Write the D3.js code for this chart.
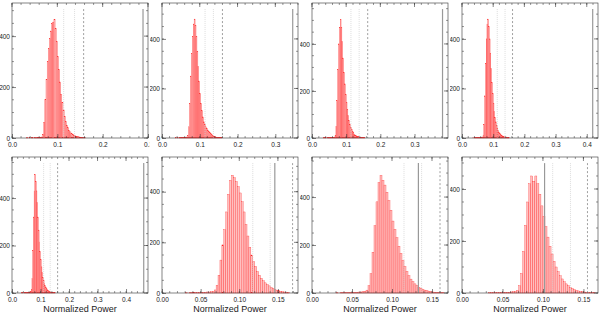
<!DOCTYPE html>
<html><head><meta charset="utf-8">
<script src="https://cdn.jsdelivr.net/npm/d3@7"></script>
<style>body{margin:0;background:#fff}svg{display:block}</style>
</head><body>
<script>
// ---- data ----
const binStart = 0.03;
const binWidth = 0.0025;
const counts1 = [0,1,0,1,0,1,1,0,1,2,1,1,2,2,4,15,60,150,230,300,350,390,420,450,455,465,430,380,320,270,220,170,140,110,85,65,50,40,30,24,19,15,12,9,7,6,5,4,3,3,2,1,1];
const counts2 = [0,0,1,0,1,0,1,1,1,1,2,1,2,3,4,10,45,140,250,340,410,460,480,455,410,350,290,230,180,140,110,85,65,55,45,38,32,26,21,17,13,10,8,6,5,4,3,2,2,1,1,1];
const counts3 = [0,1,0,1,1,0,1,1,1,2,1,2,2,3,4,12,50,160,290,400,470,505,470,410,340,280,230,185,150,120,95,75,58,46,36,28,22,17,13,10,8,6,5,4,3,2,2,1,1,1];
const counts4 = [0,0,1,0,1,1,0,1,1,1,2,1,2,3,4,12,55,170,300,400,460,480,450,400,340,280,225,180,140,108,84,65,50,40,31,24,19,15,12,9,7,5,4,3,3,2,1,1,1];
const counts5 = [0,1,0,1,0,1,1,1,1,1,2,2,2,3,5,14,60,180,320,430,500,470,430,380,320,265,215,175,140,110,86,66,52,41,32,25,20,16,12,9,7,5,4,3,3,2,1,1,1];
const counts6 = [1,0,1,2,1,2,1,2,3,2,3,4,4,5,7,12,30,70,130,190,250,320,390,445,465,455,440,420,395,360,320,270,225,180,150,125,105,85,70,58,48,40,33,28,22,18,14,11,9,7,5,4,3,2];
const counts7 = [1,0,1,1,2,1,2,2,3,2,3,4,4,5,7,12,30,80,170,280,380,460,490,470,450,420,385,345,300,265,230,195,165,135,110,90,72,58,47,38,30,24,19,15,12,9,7,5,4,3,2,2,1,1];
const counts8 = [0,1,1,1,2,1,2,2,2,3,3,3,4,5,6,10,28,75,160,260,350,420,450,430,450,420,380,335,295,255,215,180,150,122,100,82,66,54,43,35,28,22,17,13,10,8,6,5,4,3,2,2,1,1];
const allCounts = [counts1,counts2,counts3,counts4,counts5,counts6,counts7,counts8];

const xMaxes = [0.30, 0.36, 0.398, 0.436, 0.477, 0.176, 0.170, 0.168];
const yMaxes = [530, 545, 574, 545, 573, 537, 567, 523];
const xTickSteps = [0.1, 0.1, 0.1, 0.1, 0.1, 0.05, 0.05, 0.05];
const yTickValues = [0, 200, 400];
const dotted1 = [0.114, 0.114, 0.114, 0.113, 0.111, 0.1175, 0.115, 0.112];
const dotted2 = [0.138, 0.136, 0.138, 0.138, 0.134, 0.140, 0.137, 0.134];
const dashed = [0.158, 0.160, 0.163, 0.162, 0.160, 0.169, 0.160, 0.155];
const observed = [0.289, 0.346, 0.382, 0.419, 0.462, 0.146, 0.133, 0.102];
const xTitle = "Normalized Power";

// ---- drawing ----
const W = 600, H = 317;
const svg = d3.select("body").append("svg").attr("width", W).attr("height", H)
  .style("font-family", "'Liberation Sans', Arial, Helvetica, sans-serif");

const colX = [12, 162, 312, 462];
const rowY = [3, 157];
const pw = 136, ph = [135, 136];
const ink = "#333";

allCounts.forEach((counts, i) => {
  const row = i < 4 ? 0 : 1, col = i % 4;
  const x0 = colX[col], y0 = rowY[row], h = ph[row];
  const clipId = "clip" + i;
  svg.append("clipPath").attr("id", clipId).append("rect")
    .attr("x", col * 150).attr("y", row === 0 ? 0 : 150).attr("width", 150).attr("height", row === 0 ? 150 : 167);
  const g = svg.append("g").attr("clip-path", `url(#${clipId})`);
  const x = d3.scaleLinear().domain([0, xMaxes[i]]).range([x0, x0 + pw]);
  const y = d3.scaleLinear().domain([0, yMaxes[i]]).range([y0 + h, y0]);

  const bins = counts.map((c, k) => ({ a: binStart + k * binWidth, c }));
  g.append("g").selectAll("rect").data(bins.filter(d => d.c > 0)).join("rect")
    .attr("x", d => x(d.a)).attr("width", d => x(d.a + binWidth) - x(d.a))
    .attr("y", d => y(d.c)).attr("height", d => y(0) - y(d.c))
    .attr("fill", "#ffc0c0").attr("stroke", "#ff1f1f").attr("stroke-width", 0.3);

  const lineTop = y(yMaxes[i] * 0.955);
  const vl = (v, stroke, dash, sw) => g.append("line")
    .attr("x1", x(v)).attr("x2", x(v)).attr("y1", lineTop).attr("y2", y(0))
    .attr("stroke", stroke).attr("stroke-width", sw).attr("stroke-dasharray", dash);
  vl(dotted1[i], "#cfcfcf", "1,1", 0.7);
  vl(dotted2[i], "#cfcfcf", "1,1", 0.7);
  vl(dashed[i], "#888", "2,2", 0.8);
  vl(observed[i], "#999", null, 1.2);

  // frame
  g.append("rect").attr("x", x0).attr("y", y0).attr("width", pw).attr("height", h)
    .attr("fill", "none").attr("stroke", ink).attr("stroke-width", 0.6);

  // x ticks
  const step = xTickSteps[i];
  const nMaj = Math.floor(xMaxes[i] / step + 1e-9);
  const majors = d3.range(0, nMaj + 1).map(k => k * step);
  const minors = d3.range(0, Math.floor(xMaxes[i] / (step / 5) + 1e-9) + 1).map(k => k * step / 5);
  const fmt = step < 0.1 ? d3.format(".2f") : d3.format(".1f");
  const bottom = d3.axisBottom(x).tickValues(majors).tickSize(-4).tickFormat(fmt).tickPadding(4);
  const ax = g.append("g").attr("transform", `translate(0,${y0 + h})`).call(bottom);
  ax.select(".domain").remove();
  ax.selectAll("line").attr("stroke", ink).attr("stroke-width", 0.6);
  ax.selectAll("text").attr("font-size", 6.5).attr("fill", "#222").attr("font-family", null);
  [y0 + h, y0].forEach((yy, s) => {
    g.append("g").selectAll("line").data(minors).join("line")
      .attr("x1", d => x(d)).attr("x2", d => x(d))
      .attr("y1", yy).attr("y2", yy + (s === 0 ? -2 : 2))
      .attr("stroke", ink).attr("stroke-width", 0.5);
    if (s === 1) g.append("g").selectAll("line").data(majors).join("line")
      .attr("x1", d => x(d)).attr("x2", d => x(d)).attr("y1", yy).attr("y2", yy + 4)
      .attr("stroke", ink).attr("stroke-width", 0.6);
  });

  // y ticks
  const yMinors = d3.range(0, yMaxes[i] + 1, 50);
  const left = d3.axisLeft(y).tickValues(yTickValues).tickSize(-4).tickPadding(2);
  const ay = g.append("g").attr("transform", `translate(${x0},0)`).call(left);
  ay.select(".domain").remove();
  ay.selectAll("line").attr("stroke", ink).attr("stroke-width", 0.6);
  ay.selectAll("text").attr("font-size", 6.5).attr("fill", "#222").attr("font-family", null);
  [x0, x0 + pw].forEach((xx, s) => {
    g.append("g").selectAll("line").data(yMinors).join("line")
      .attr("x1", xx).attr("x2", xx + (s === 0 ? 2 : -2))
      .attr("y1", d => y(d)).attr("y2", d => y(d))
      .attr("stroke", ink).attr("stroke-width", 0.5);
    if (s === 1) g.append("g").selectAll("line").data(yTickValues).join("line")
      .attr("x1", xx).attr("x2", xx - 4).attr("y1", d => y(d)).attr("y2", d => y(d))
      .attr("stroke", ink).attr("stroke-width", 0.6);
  });

  if (row === 1) {
    svg.append("text").attr("x", x0 + pw / 2).attr("y", 312).attr("text-anchor", "middle")
      .attr("font-size", 9).attr("fill", "#222").text(xTitle);
  }
});
</script>
</body></html>
